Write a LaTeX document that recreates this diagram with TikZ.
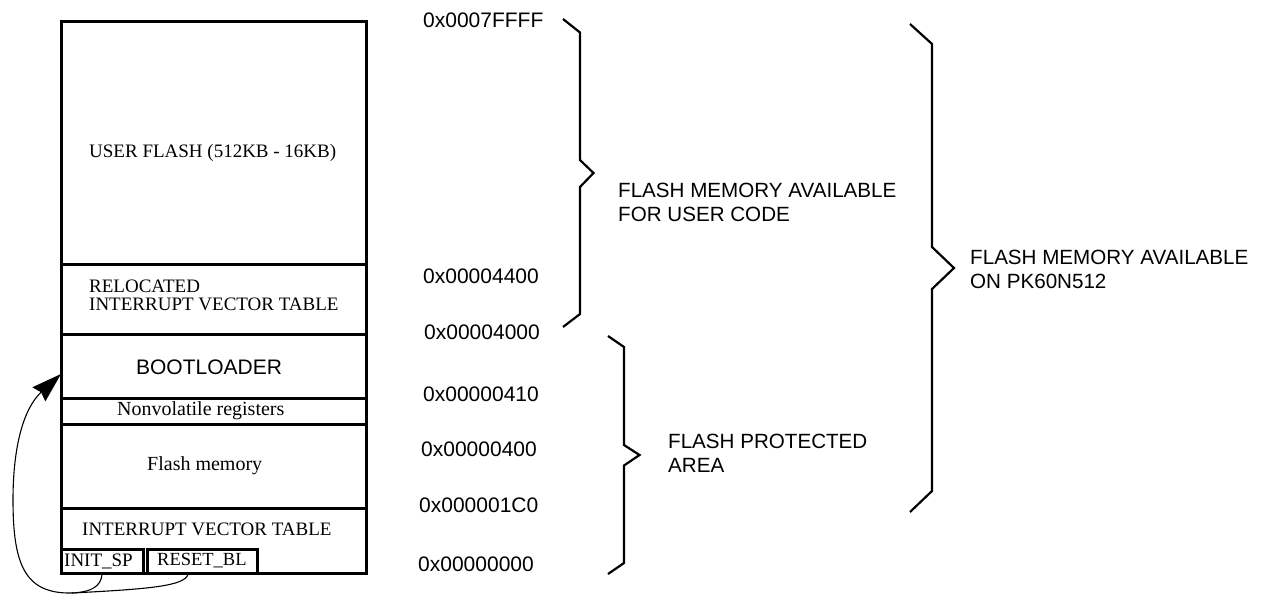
\documentclass[tikz,border=0pt]{standalone}
\usepackage{fontspec}
\setmainfont{Liberation Serif}
\setsansfont{Liberation Sans}
\usetikzlibrary{arrows.meta}
\begin{document}
\begin{tikzpicture}[x=1pt,y=-1pt,
  sec/.style={line width=3pt},
  brace/.style={line width=2.2pt, line join=miter},
  sertxt/.style={inner sep=0pt, anchor=base west, font=\fontsize{19}{18}\selectfont},
  lowtxt/.style={inner sep=0pt, anchor=base west, font=\fontsize{20}{20}\selectfont},
  addr/.style={inner sep=0pt, anchor=west, font=\sffamily\fontsize{21}{24}\selectfont},
  lbl/.style={inner sep=0pt, anchor=north west, align=left, font=\sffamily\fontsize{20.6}{23.5}\selectfont},
  link/.style={line width=1.1pt}]
\useasboundingbox (0,0) rectangle (1264,594);

% memory map
\draw[sec] (61.3,21.3) rectangle (366,573);
\draw[sec] (61.3,264) -- (366,264);
\draw[sec] (61.3,334.5) -- (366,334.5);
\draw[sec] (61.3,398) -- (366,398);
\draw[sec] (61.3,424) -- (366,424);
\draw[sec] (61.3,508) -- (366,508);
\draw[sec] (61.3,549.5) rectangle (143,573);
\draw[sec] (147,549.5) rectangle (257,573);

\node[sertxt] (userflash) at (89,157) {USER FLASH (512KB - 16KB)};
\node[sertxt, anchor=north west, align=left] (reloc) at (89,280) {RELOCATED\\INTERRUPT VECTOR TABLE};
\node[inner sep=0pt, font=\sffamily\fontsize{21}{24}\selectfont] (boot) at (209,367.5) {BOOTLOADER};
\node[lowtxt] (nvreg) at (117,415) {Nonvolatile registers};
\node[lowtxt] (flashmem) at (147,470) {Flash memory};
\node[sertxt] (ivt) at (82,535) {INTERRUPT VECTOR TABLE};
\node[sertxt] (initsp) at (64,566) {INIT\_SP};
\node[sertxt, font=\fontsize{18.5}{18}\selectfont] (resetbl) at (157,565) {RESET\_BL};

% reset arrow
\coordinate (isp) at (102,574.5);
\coordinate (rbl) at (188,574.5);
\coordinate (merge) at (72,593);
\coordinate (bootl) at (61,374);
\draw[link] (isp) .. controls (101,586) and (92,592) .. (merge);
\draw[link] (rbl) .. controls (184,586) and (150,589) .. (merge);
\draw[link, -{Stealth[length=30pt,width=19pt,inset=3pt]}] (merge) .. controls (25,594) and (13,565) .. (13,500) .. controls (13,445) and (24,408) .. (bootl);

% addresses
\node[addr] (a1) at (423,20.3) {0x0007FFFF};
\node[addr] (a2) at (423,276) {0x00004400};
\node[addr] (a3) at (424,332.5) {0x00004000};
\node[addr] (a4) at (423,394) {0x00000410};
\node[addr] (a5) at (421,449) {0x00000400};
\node[addr] (a6) at (419,505) {0x000001C0};
\node[addr] (a7) at (418,564.5) {0x00000000};

% braces
\draw[brace] (563,19) -- (580,32.5) -- (580,160) -- (593.5,173) -- (580,187) -- (580,314) -- (563,327);
\draw[brace] (608,336) -- (624,347) -- (624,445) -- (639.5,455) -- (624,465.5) -- (624,563) -- (608,574);
\draw[brace] (910,24) -- (932,44) -- (932,247) -- (954,268) -- (932,289) -- (932,491) -- (910,512);

% labels
\node[lbl] (usercode) at (618,183) {FLASH MEMORY AVAILABLE\\FOR USER CODE};
\node[lbl] (prot) at (668,434) {FLASH PROTECTED\\AREA};
\node[lbl] (pk) at (970,250) {FLASH MEMORY AVAILABLE\\ON PK60N512};
\end{tikzpicture}
\end{document}
